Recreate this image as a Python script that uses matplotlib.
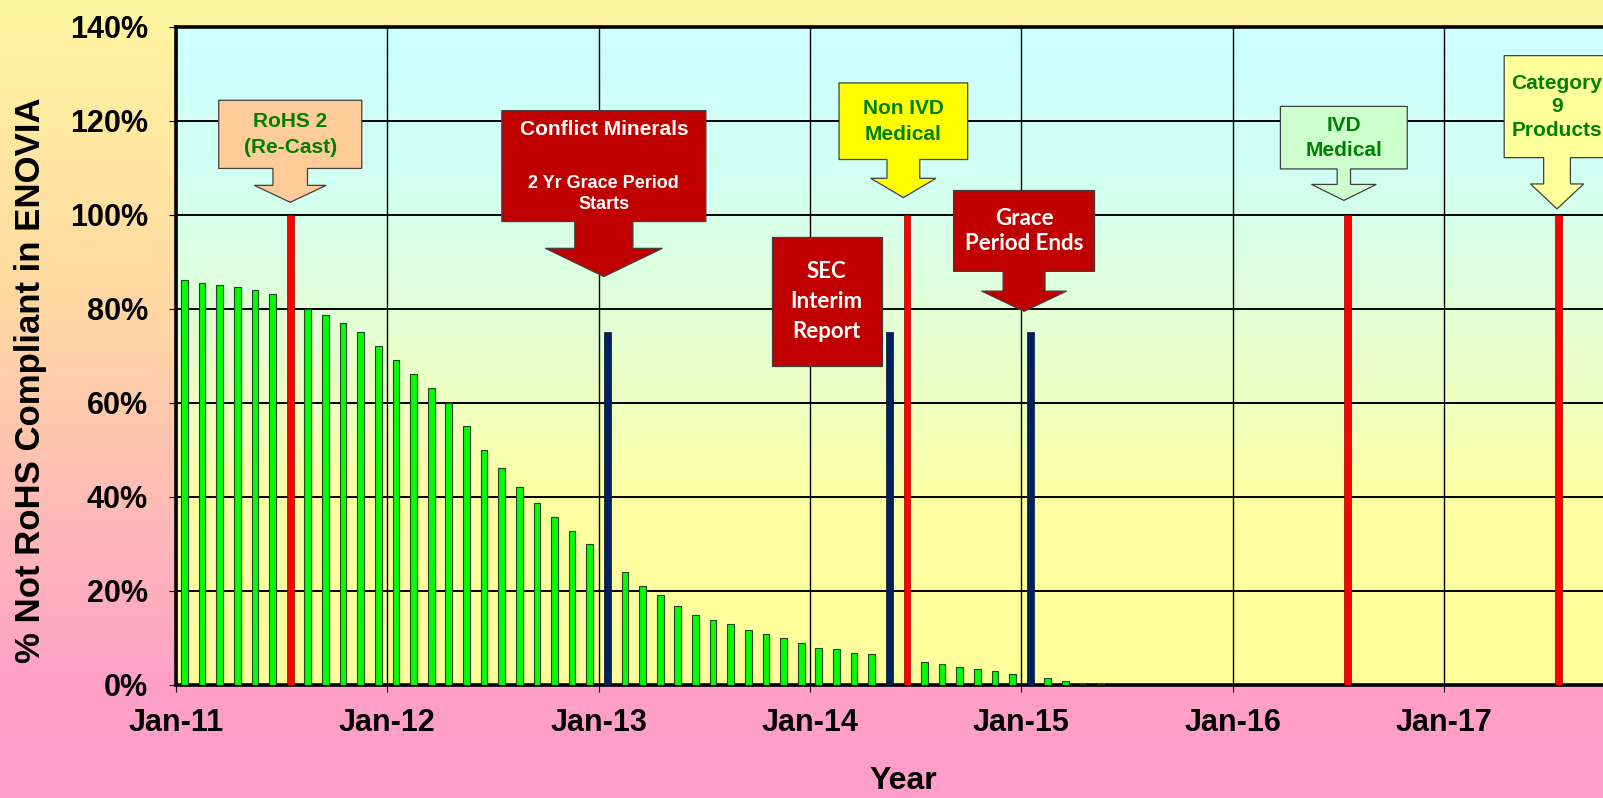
import numpy as np
import pandas as pd
import matplotlib
matplotlib.use("Agg")
from matplotlib import pyplot as plt
from matplotlib.patches import Polygon

plt.rcParams['font.family'] = ['Liberation Sans', 'DejaVu Sans']
plt.rcParams['font.weight'] = 'bold'

# --- data ---
start_month = "Jan-11"
# % not RoHS compliant, one value per month from Jan-11 (nan = month taken by an event bar)
green_pct = [86, 85.5, 85, 84.5, 84, 83, np.nan, 80, 78.7, 77, 75, 72,
             69, 66, 63, 60, 55, 50, 46, 42, 38.7, 35.7, 32.7, 30,
             np.nan, 24, 21, 19, 16.7, 14.7, 13.8, 12.8, 11.7, 10.8, 9.8, 8.8,
             7.8, 7.5, 6.8, 6.4, np.nan, np.nan, 4.8, 4.3, 3.8, 3.2, 2.8, 2.3,
             np.nan, 1.3, 0.85, 0.15, 0.1]

# RoHS deadlines (red) and conflict minerals milestones (blue)
red_months = ["Jul-11", "Jun-14", "Jul-16", "Jul-17"]
red_pct = [100, 100, 100, 100]
blue_months = ["Jan-13", "May-14", "Jan-15"]
blue_pct = [75, 75, 75]

year_labels = ["Jan-11", "Jan-12", "Jan-13", "Jan-14", "Jan-15", "Jan-16", "Jan-17"]
y_ticks = [0, 20, 40, 60, 80, 100, 120, 140]


def month_idx(s):
    d = pd.to_datetime(s, format="%b-%y")
    d0 = pd.to_datetime(start_month, format="%b-%y")
    return (d.year - d0.year) * 12 + d.month - d0.month


# --- figure ---
fig = plt.figure(figsize=(16.03, 7.98), dpi=100)

# background gradient of the whole picture (yellow -> peach -> pink)
bg = fig.add_axes([0, 0, 1, 1], zorder=-10)
t = np.linspace(0, 1, 400)
stops = [0, 0.38, 0.63, 0.86, 1.0]
cols = np.array([[255, 246, 160], [255, 216, 162], [255, 188, 182], [255, 160, 200], [255, 158, 202]]) / 255
grad = np.stack([np.interp(t, stops, cols[:, k]) for k in range(3)], axis=1)
bg.imshow(grad[:, None, :], aspect='auto', extent=[0, 1, 0, 1])
bg.axis('off')

ax = fig.add_axes([175.7 / 1603, 113.5 / 798, 1480 / 1603, 658 / 798])
ax.set_facecolor('none')

# plot area gradient (cyan -> yellow)
pstops = [0, 0.25, 0.5, 0.72, 1.0]
pcols = np.array([[204, 255, 255], [210, 255, 240], [232, 255, 205], [252, 255, 162], [255, 255, 153]]) / 255
pgrad = np.stack([np.interp(t, pstops, pcols[:, k]) for k in range(3)], axis=1)
ax.imshow(pgrad[:, None, :], aspect='auto', extent=[0, 84, 0, 140], zorder=-1)

bw = 0.38
gx = [i + 0.5 for i, v in enumerate(green_pct) if not np.isnan(v)]
gy = [v for v in green_pct if not np.isnan(v)]
ax.bar(gx, gy, width=bw, color='#00FF00', edgecolor='#224422', linewidth=0.8, zorder=3)
ax.bar([month_idx(m) + 0.5 for m in red_months], red_pct, width=bw,
       color='#FF0000', edgecolor='#990000', linewidth=0.5, zorder=3)
ax.bar([month_idx(m) + 0.5 for m in blue_months], blue_pct, width=bw,
       color='#002060', edgecolor='#001030', linewidth=0.5, zorder=3)

ax.set_xlim(0, 84)
ax.set_ylim(0, 140)
ax.set_xticks([month_idx(m) for m in year_labels])
ax.set_xticklabels(year_labels)
ax.set_yticks(y_ticks)
ax.set_yticklabels([f"{v}%" for v in y_ticks])
ax.tick_params(axis='x', labelsize=22, length=5, width=0.8, pad=12, direction='out')
ax.tick_params(axis='y', labelsize=22, length=5, width=0.8, pad=15, direction='out')
ax.set_axisbelow(True)
ax.grid(axis='y', color='black', linewidth=1.4)
ax.grid(axis='x', color='black', linewidth=1.0)
for s in ax.spines.values():
    s.set_linewidth(2.6)
    s.set_color('black')

fig.text(30.7 / 1603, 1 - 380 / 798, "% Not RoHS Compliant in ENOVIA", rotation=90,
         ha='center', va='center', fontsize=25)
fig.text(903 / 1603, 1 - 781 / 798, "Year", ha='center', va='center', fontsize=23)


# --- callouts ---
def callout(xc, box, shaft, head, face, text, tcolor, fsize, family=None, ls=1.2, texts=None):
    xl, xr, top, bot = box
    if shaft is None:
        pts = [(xl, top), (xr, top), (xr, bot), (xl, bot)]
    else:
        sw, sbot = shaft
        hw, tip = head
        pts = [(xl, top), (xr, top), (xr, bot), (xc + sw, bot), (xc + sw, sbot), (xc + hw, sbot),
               (xc, tip), (xc - hw, sbot), (xc - sw, sbot), (xc - sw, bot), (xl, bot)]
    ax.add_patch(Polygon(pts, closed=True, facecolor=face, edgecolor='#404040',
                         linewidth=0.9, zorder=5, clip_on=False))
    fam = family if family else ['Liberation Sans', 'DejaVu Sans']
    if texts is None:
        ax.text((xl + xr) / 2, (top + bot) / 2, text, ha='center', va='center', color=tcolor,
                fontsize=fsize, family=fam, linespacing=ls, zorder=6)
    else:
        for (tx, ty, fs) in texts:
            ax.text((xl + xr) / 2, ty, tx, ha='center', va='center', color=tcolor,
                    fontsize=fs, family=fam, linespacing=ls, zorder=6)


txt_green = '#008000'
lato = ['Lato', 'DejaVu Sans']

x = month_idx("Jul-11") + 0.5
callout(x, (x - 4.06, x + 4.06, 124.3, 109.8), (0.98, 106.2), (2.04, 102.6),
        '#FFCC99', "RoHS 2\n(Re-Cast)", txt_green, 15, ls=1.45)

x = month_idx("Jan-13") + 0.3
callout(x, (x - 5.79, x + 5.79, 122.1, 98.5), (1.65, 92.8), (3.32, 86.8),
        '#C00000', None, 'white', 15, ls=1.3,
        texts=[("Conflict Minerals", 118.0, 15), ("2 Yr Grace Period\nStarts", 104.4, 13)])

x = month_idx("Jun-14") + 0.3
callout(x, (x - 3.65, x + 3.65, 128.0, 111.7), (0.93, 107.7), (1.85, 103.6),
        '#FFFF00', "Non IVD\nMedical", txt_green, 15, ls=1.45)

x = month_idx("May-14") + 0.5
callout(x, (x - 6.67, x - 0.43, 95.3, 67.7), None, None,
        '#C00000', "SEC\nInterim\nReport", 'white', 16, family=lato, ls=1.55)

x = month_idx("Jan-15") + 0.15
callout(x, (x - 4.0, x + 4.0, 105.1, 87.9), (1.19, 83.7), (2.41, 79.4),
        '#C00000', "Grace\nPeriod Ends", 'white', 16, family=lato, ls=1.2)

x = month_idx("Jul-16") + 0.3
callout(x, (x - 3.6, x + 3.6, 123.0, 109.7), (0.38, 106.4), (1.84, 103.0),
        '#CCFFCC', "IVD\nMedical", txt_green, 15, ls=1.4)

x = month_idx("Jul-17") + 0.4
callout(x, (x - 3.0, x + 3.0, 133.8, 112.1), (0.76, 106.5), (1.51, 101.2),
        '#FFFF99', "Category\n9\nProducts", txt_green, 15, ls=1.3)

fig.savefig("out.png", dpi=100)
